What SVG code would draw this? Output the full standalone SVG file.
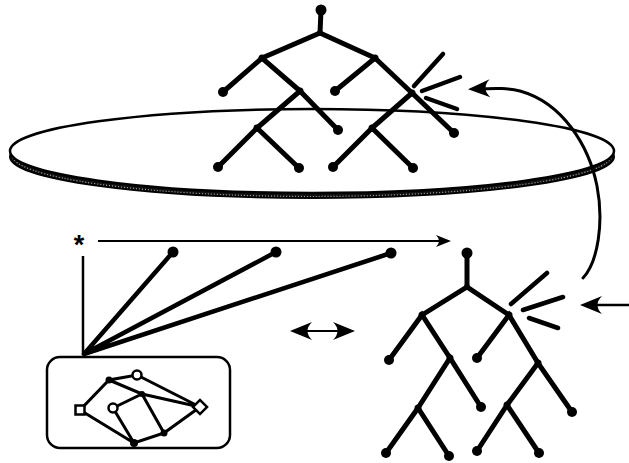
<svg xmlns="http://www.w3.org/2000/svg" width="629" height="463" viewBox="0 0 629 463">
<style>
.e{stroke:#000;stroke-width:5;stroke-linecap:round;fill:none}
.b{stroke:#000;stroke-width:4.5;stroke-linecap:round;fill:none}
.g{stroke:#000;stroke-width:3;stroke-linecap:round;fill:none}
.c{stroke:#000;fill:none}
.d{fill:#000}
.h{fill:#fff;stroke:#000;stroke-width:2.5}
</style>
<defs>
<marker id="big" markerUnits="userSpaceOnUse" viewBox="-24 -10 26 20" markerWidth="26" markerHeight="20" refX="-8" refY="0" orient="auto-start-reverse">
<path d="M0,0 L-22,-9 Q-13,0 -22,9 Z" fill="#000"/>
</marker>
<marker id="small" markerUnits="userSpaceOnUse" viewBox="-16 -7 18 14" markerWidth="18" markerHeight="14" refX="-5" refY="0" orient="auto">
<path d="M0,0 L-15,-6 Q-9,0 -15,6 Z" fill="#000"/>
</marker>
</defs>
<rect width="629" height="463" fill="#fff"/>

<g id="disk">
<ellipse cx="312" cy="156.5" rx="302" ry="41.5" fill="#111" stroke="#000" stroke-width="2"/>
<path d="M12,155 A300,41.5 0 0 0 612,155" fill="none" stroke="#aaa" stroke-width="1.2" stroke-dasharray="1 2"/>
<ellipse cx="312" cy="151" rx="302" ry="42" fill="#fff" stroke="#000" stroke-width="2.5"/>
</g>

<g id="tree-top">
<path class="e" d="M321,10 L320,33 M262,58 L320,33 L375,58 M223,92 L262,58 L300,91 M335,91 L375,58 L412,93 M257,128 L300,91 L338,130 M218,167 L257,128 L299,168 M372,128 L412,93 L454,133 M333,167 L372,128 L413,168"/>
<g class="d">
<circle cx="321" cy="10" r="5.5"/><circle cx="320" cy="33" r="3"/>
<circle cx="262" cy="58" r="3.5"/><circle cx="375" cy="58" r="3.5"/>
<circle cx="300" cy="91" r="3.5"/><circle cx="412" cy="93" r="3.5"/>
<circle cx="257" cy="128" r="3.5"/><circle cx="372" cy="128" r="3.5"/>
<circle cx="223" cy="92" r="5"/><circle cx="335" cy="91" r="5"/>
<circle cx="338" cy="130" r="5"/><circle cx="454" cy="133" r="5"/>
<circle cx="218" cy="167" r="5"/><circle cx="299" cy="168" r="5"/>
<circle cx="333" cy="167" r="5"/><circle cx="413" cy="168" r="5"/>
</g>
<path class="b" d="M414,86 L443,54 M422,91 L460,77 M426,98 L457,109"/>
</g>

<g id="tree-bottom">
<path class="e" d="M467,253 L467,287 M422,315 L467,287 L509,315 M389,360 L422,315 L450,358 M477,358 L509,315 L538,363 M418,408 L450,358 L481,407 M386,453 L418,408 L449,456 M507,405 L538,363 L572,412 M477,451 L507,405 L539,453"/>
<g class="d">
<circle cx="467" cy="253" r="5.5"/><circle cx="467" cy="287" r="3"/>
<circle cx="422" cy="315" r="3.5"/><circle cx="509" cy="315" r="3.5"/>
<circle cx="450" cy="358" r="3.5"/><circle cx="538" cy="363" r="3.5"/>
<circle cx="418" cy="408" r="3.5"/><circle cx="507" cy="405" r="3.5"/>
<circle cx="389" cy="360" r="5"/><circle cx="477" cy="358" r="5"/>
<circle cx="481" cy="407" r="5"/><circle cx="572" cy="412" r="5"/>
<circle cx="386" cy="453" r="5"/><circle cx="449" cy="456" r="5"/>
<circle cx="477" cy="451" r="5"/><circle cx="539" cy="453" r="5"/>
</g>
<path class="b" d="M511,304 L547,273 M523,310 L563,297 M529,318 L558,328"/>
</g>

<g id="fan">
<text x="79" y="254" font-family="Liberation Sans, Arial, sans-serif" font-size="27" font-weight="bold" text-anchor="middle">*</text>
<path class="b" d="M84,354 L173,252 M84,354 L276,252 M84,354 L391,253"/>
<g class="d"><circle cx="173" cy="252" r="5.5"/><circle cx="276" cy="252" r="5.5"/><circle cx="391" cy="253" r="5.5"/></g>
</g>

<g id="graph-box">
<rect x="47" y="357" width="183" height="91" rx="13" fill="none" stroke="#000" stroke-width="2.5"/>
<path class="g" d="M80,410 L109,380 L137,375 L200,407 M109,380 L142,394 L200,407 M113,408 L142,394 L164,433 L200,407 M113,408 L134,443 L164,433 M80,410 L134,443"/>
<rect class="h" x="75.5" y="405.5" width="9" height="9"/>
<circle class="h" cx="137" cy="375" r="4.5"/>
<circle class="h" cx="113" cy="408" r="4.5"/>
<rect class="h" x="195" y="402" width="10" height="10" transform="rotate(45 200 407)"/>
<g class="d"><circle cx="109" cy="380" r="3.5"/><circle cx="142" cy="394" r="3"/><circle cx="164" cy="433" r="3.5"/><circle cx="134" cy="443" r="4"/></g>
</g>

<g id="connectors">
<path class="c" stroke-width="2.5" d="M83,256 L83,355"/>
<path class="c" stroke-width="2.2" d="M98,241 L446,241" marker-end="url(#small)"/>
<path class="c" stroke-width="3" stroke-linecap="round" d="M583,278 C598,262 604,222 597,186 C589,146 563,103 520,91 C508,88 498,88 476,89" marker-end="url(#big)"/>
<path class="c" stroke-width="2.5" d="M629,305 L588,305" marker-end="url(#big)"/>
<path class="c" stroke-width="2.2" d="M298,331 L347,331" marker-start="url(#big)" marker-end="url(#big)"/>
</g>
</svg>
